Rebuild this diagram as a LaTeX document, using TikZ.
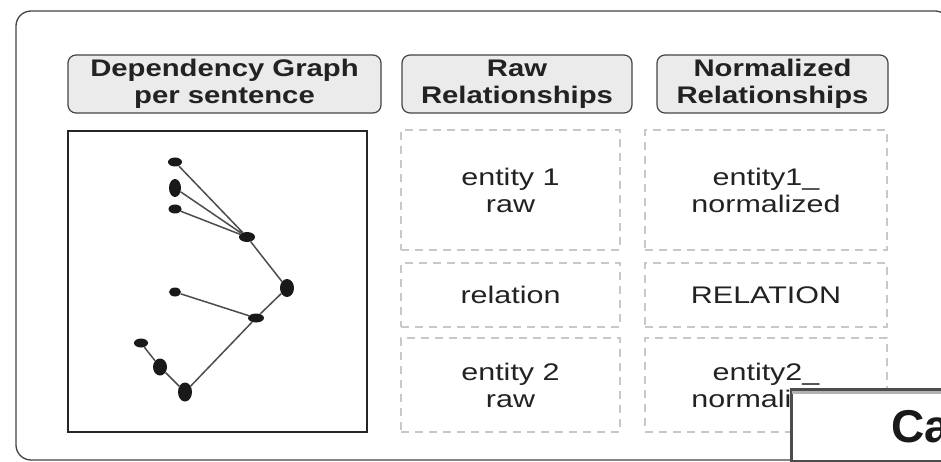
\documentclass[tikz,border=0pt]{standalone}
\usepackage{fontspec}
\setmainfont[FakeStretch=1.22]{Liberation Sans}
\newfontfamily\slotfont[FakeStretch=1.27]{Liberation Sans}
\newfontfamily\popfont{Liberation Sans}
\usetikzlibrary{shapes.geometric}
\definecolor{hdrfill}{HTML}{EBEBEB}
\definecolor{hdrline}{HTML}{444444}
\definecolor{slotline}{HTML}{C8C8C8}
\definecolor{txt}{HTML}{222222}

\begin{document}
\begin{tikzpicture}[x=1pt,y=-1pt,
        header/.style={draw=hdrline, fill=hdrfill, rounded corners=8pt, line width=1.2pt,
            minimum height=58pt, align=center, text=txt, inner sep=0pt,
            font=\bfseries\fontsize{24}{27}\selectfont},
        slot/.style={draw=slotline, dash pattern=on 8pt off 6pt, line width=1.2pt,
            align=center, text=txt, inner sep=0pt, font=\slotfont\fontsize{24}{27}\selectfont},
        vtx/.style={ellipse, fill=black!90, inner sep=0pt},
        dep/.style={draw=black!70, line width=1.5pt}]
        \useasboundingbox (0,0) rectangle (941,462);
        \clip (0,0) rectangle (941,462);
        \draw[draw=hdrline, line width=1.3pt, rounded corners=15pt] (16,11) rectangle (950,460);

        \node[header, minimum width=313pt] (hdep) at (224.5,84) {Dependency Graph\\per sentence};
        \node[header, minimum width=230pt] (hraw) at (517,84) {Raw\\Relationships};
        \node[header, minimum width=231pt] (hnorm) at (772.5,84) {Normalized\\Relationships};

        \node[draw=black!85, line width=1.4pt, minimum width=299pt, minimum height=301pt] (frame) at (217.5,281.5) {};

        \node[slot, minimum width=219pt, minimum height=120pt] (raw1) at (510.5,190) {entity 1\\raw};
        \node[slot, minimum width=219pt, minimum height=64pt] (rawrel) at (510.5,295) {relation};
        \node[slot, minimum width=219pt, minimum height=94pt] (raw2) at (510.5,385) {entity 2\\raw};
        \node[slot, minimum width=242pt, minimum height=120pt] (norm1) at (766,190) {entity1\_\\normalized};
        \node[slot, minimum width=242pt, minimum height=64pt] (normrel) at (766,295) {RELATION};
        \node[slot, minimum width=242pt, minimum height=94pt] (norm2) at (766,385) {entity2\_\\normalized};

        \node[vtx, minimum width=14pt, minimum height=9pt] (v1) at (175,162) {};
        \node[vtx, minimum width=12pt, minimum height=18pt] (v2) at (175,188) {};
        \node[vtx, minimum width=13pt, minimum height=9pt] (v3) at (175,209) {};
        \node[vtx, minimum width=16pt, minimum height=10pt] (v4) at (247,237) {};
        \node[vtx, minimum width=14pt, minimum height=18pt] (v5) at (287,288) {};
        \node[vtx, minimum width=12pt, minimum height=9pt] (v6) at (175,292) {};
        \node[vtx, minimum width=16pt, minimum height=9pt] (v7) at (256,318) {};
        \node[vtx, minimum width=14pt, minimum height=9pt] (v8) at (141,343) {};
        \node[vtx, minimum width=14pt, minimum height=17pt] (v9) at (160,367) {};
        \node[vtx, minimum width=14pt, minimum height=19pt] (v10) at (185,392) {};
        \path[dep] (v1) -- (v4) (v2) -- (v4) (v3) -- (v4) (v4) -- (v5) (v5) -- (v7)
            (v6) -- (v7) (v7) -- (v10) (v10) -- (v9) (v9) -- (v8);

        \node[draw=black!70, fill=white, line width=3pt, anchor=north west,
            minimum width=170pt, minimum height=72pt] (popup) at (790,388) {};
        \draw[black!30, line width=3pt] (popup.north west) ++(2,4) -- ++(170,0);
        \node[anchor=base west, inner sep=0pt, text=black!90,
            font=\popfont\bfseries\fontsize{46}{46}\selectfont] (cancel) at (891,442) {Ca};
\end{tikzpicture}
\end{document}
